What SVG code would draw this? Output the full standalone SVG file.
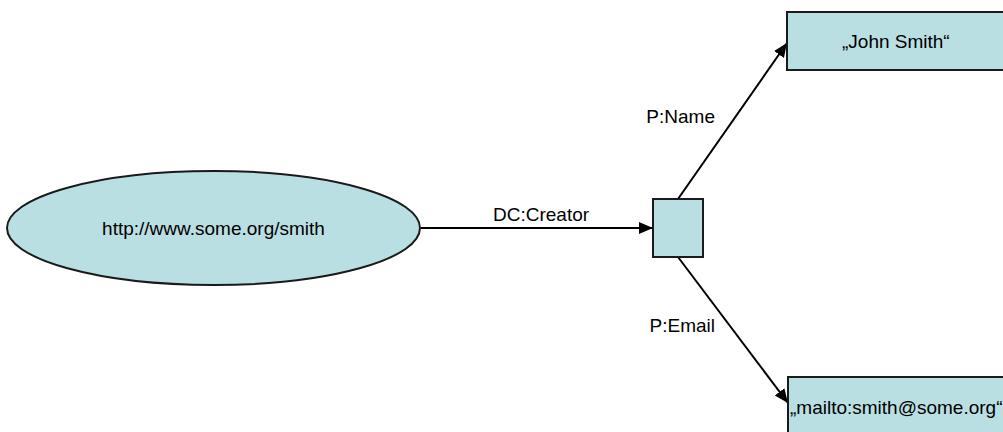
<svg xmlns="http://www.w3.org/2000/svg" width="1003" height="432" viewBox="0 0 1003 432">
  <style>
    .shape { fill: #BADFE3; stroke: #1a1a1a; stroke-width: 2; }
    .lbl { font-family: "Liberation Sans", Arial, sans-serif; font-size: 19px; fill: #000; }
    .conn { stroke: #000; stroke-width: 2; fill: none; marker-end: url(#arrow); }
  </style>
  <defs>
    <marker id="arrow" markerUnits="userSpaceOnUse" markerWidth="14" markerHeight="14" viewBox="0 0 14 12" refX="14" refY="6" orient="auto">
      <path d="M0,0 L14,6 L0,12 Z" fill="#000"/>
    </marker>
  </defs>
  <rect width="1003" height="432" fill="#fff"/>
  <g id="connectors">
    <line class="conn" x1="421" y1="228" x2="653" y2="228"/>
    <line class="conn" x1="678" y1="199" x2="787" y2="43"/>
    <line class="conn" x1="678" y1="257" x2="788" y2="403"/>
    <text class="lbl" x="493" y="221">DC:Creator</text>
    <text class="lbl" x="715" y="123" text-anchor="end">P:Name</text>
    <text class="lbl" x="715" y="332" text-anchor="end">P:Email</text>
  </g>
  <g id="resource">
    <ellipse class="shape" cx="213.5" cy="228" rx="206.5" ry="57"/>
    <text class="lbl" x="213.5" y="235" text-anchor="middle">http://www.some.org/smith</text>
  </g>
  <g id="blank">
    <rect class="shape" x="653" y="199" width="50" height="58"/>
  </g>
  <g id="name">
    <rect class="shape" x="787" y="12" width="230" height="58"/>
    <text class="lbl" x="842" y="48">„John Smith“</text>
  </g>
  <g id="email">
    <rect class="shape" x="788" y="377" width="230" height="58"/>
    <text class="lbl" x="790" y="414">„mailto:smith@some.org“</text>
  </g>
</svg>
